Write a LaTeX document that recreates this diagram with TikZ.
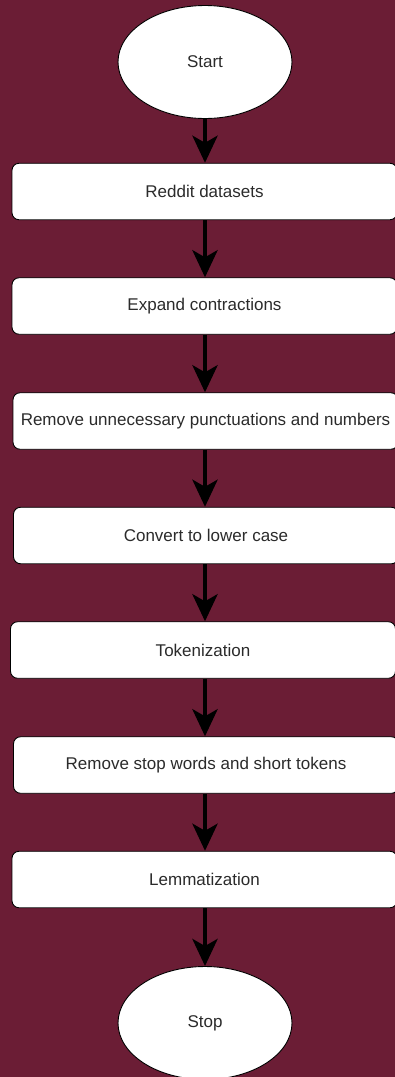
\documentclass[tikz,border=0pt]{standalone}
\usepackage{fontspec}
\setmainfont{Liberation Sans}
\usetikzlibrary{arrows.meta,shapes.geometric}
\definecolor{bgmaroon}{HTML}{6B1D35}
\definecolor{txtgrey}{HTML}{2B2B2B}
\begin{document}
\begin{tikzpicture}[x=1pt,y=-1pt,
  stepbox/.style={draw=black,line width=0.9pt,fill=white,rounded corners=7pt,
    minimum width=385pt,minimum height=56.5pt,inner sep=0pt,font=\fontsize{17}{20}\selectfont,text=txtgrey},
  termnode/.style={ellipse,draw=black,line width=0.9pt,fill=white,minimum width=174pt,
    minimum height=113pt,inner sep=0pt,font=\fontsize{17}{20}\selectfont,text=txtgrey},
  flow/.style={line width=4.5pt,-{Stealth[length=27pt,width=25pt,inset=7pt]}}]
\fill[bgmaroon] (0,0) rectangle (395,1077);
\useasboundingbox (0,0) rectangle (395,1077);
\node[termnode] (start) at (205,62) {Start};
\node[stepbox] (b1) at (204.5,191.5) {Reddit datasets};
\node[stepbox] (b2) at (204.5,306) {Expand contractions};
\node[stepbox] (b3) at (205.5,421) {Remove unnecessary punctuations and numbers};
\node[stepbox] (b4) at (206,535.5) {Convert to lower case};
\node[stepbox] (b5) at (203,650) {Tokenization};
\node[stepbox] (b6) at (206,765) {Remove stop words and short tokens};
\node[stepbox] (b7) at (204.5,879.5) {Lemmatization};
\node[termnode] (stop) at (205,1023) {Stop};
\draw[flow] (start.south) -- (b1.north -| start.south);
\draw[flow] (b1.south -| start.south) -- (b2.north -| start.south);
\draw[flow] (b2.south -| start.south) -- (b3.north -| start.south);
\draw[flow] (b3.south -| start.south) -- (b4.north -| start.south);
\draw[flow] (b4.south -| start.south) -- (b5.north -| start.south);
\draw[flow] (b5.south -| start.south) -- (b6.north -| start.south);
\draw[flow] (b6.south -| start.south) -- (b7.north -| start.south);
\draw[flow] (b7.south -| start.south) -- (stop.north);
\end{tikzpicture}
\end{document}
